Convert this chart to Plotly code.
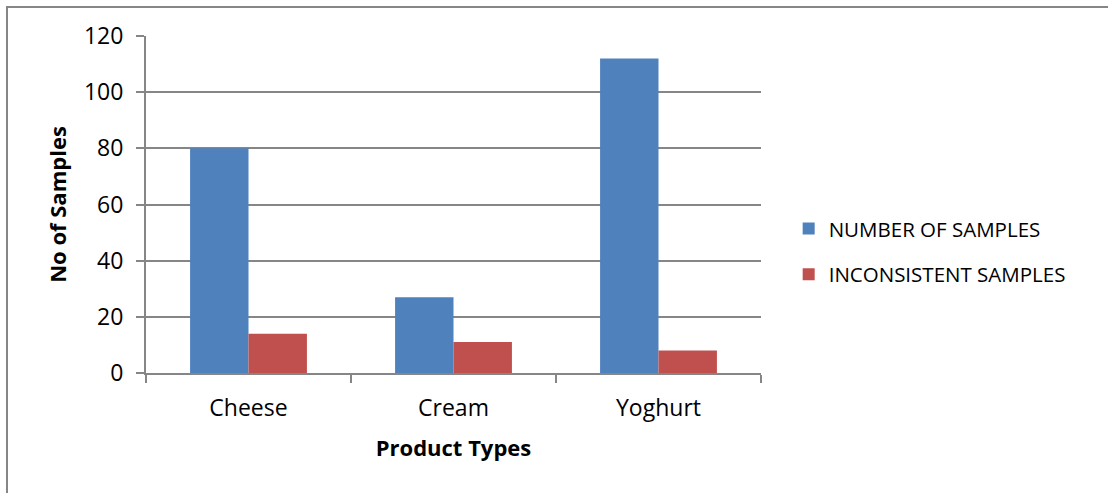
import plotly.graph_objects as go

categories = ["Cheese", "Cream", "Yoghurt"]
number_of_samples = [80, 27, 112]
inconsistent_samples = [14, 11, 8]
series_names = ["NUMBER OF SAMPLES", "INCONSISTENT SAMPLES"]
y_ticks = [0, 20, 40, 60, 80, 100, 120]

FONT = "Open Sans"
W, H = 1108, 493
L, R, T, B = 146, 1108 - 761, 36, 493 - 373

fig = go.Figure()
fig.add_trace(go.Bar(x=categories, y=number_of_samples, name=series_names[0],
                     legendgroup="a",
                     marker=dict(color="#4F81BD", line=dict(width=0))))
fig.add_trace(go.Bar(x=categories, y=inconsistent_samples, name=series_names[1],
                     legendgroup="b",
                     marker=dict(color="#C0504D", line=dict(width=0))))

fig.update_layout(
    width=W, height=H,
    margin=dict(l=L, r=R, t=T, b=B),
    paper_bgcolor="white", plot_bgcolor="white",
    barmode="group", bargap=0.43, bargroupgap=0,
    font=dict(family=FONT, size=22, color="black"),
    showlegend=True,
    legend=dict(x=1.045, y=0.36, xanchor="left", yanchor="middle",
                font=dict(family=FONT, size=20.5, color="black"),
                itemwidth=30, tracegroupgap=16, bgcolor="rgba(0,0,0,0)"),
    xaxis=dict(
        type="category", tickson="boundaries", ticks="outside", ticklen=8,
        tickcolor="#868686", tickwidth=2,
        showline=True, linecolor="#868686", linewidth=2,
        showgrid=False, tickfont=dict(size=23), ticklabelstandoff=13,
        title=dict(text="<b>Product Types</b>", font=dict(size=22), standoff=19),
    ),
    yaxis=dict(
        range=[0, 120], tickvals=y_ticks, ticks="outside", ticklen=8,
        tickcolor="#868686", tickwidth=2,
        showline=True, linecolor="#868686", linewidth=2,
        showgrid=True, gridcolor="#868686", gridwidth=2,
        zeroline=False, tickfont=dict(size=23), ticklabelstandoff=8,
        title=dict(text="<b>No of Samples</b>", font=dict(size=22), standoff=11),
    ),
    shapes=[dict(type="rect", xref="paper", yref="paper",
                 x0=(7 - L) / (W - L - R), x1=(W + 10 - L) / (W - L - R),
                 y0=(H - B - (H + 10)) / (H - T - B), y1=(H - B - 7) / (H - T - B),
                 line=dict(color="#868686", width=2), fillcolor="rgba(0,0,0,0)",
                 layer="below")],
)

fig.write_html("out.html")
